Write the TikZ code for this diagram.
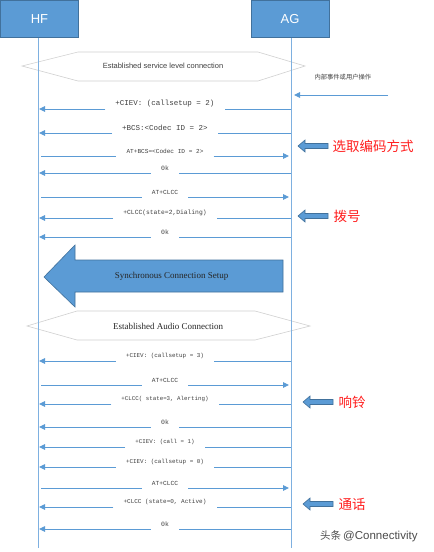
\documentclass[tikz,border=0pt]{standalone}
\usepackage{fontspec}
\usetikzlibrary{arrows.meta}
\newfontfamily\msgf{Liberation Mono}
\newfontfamily\serf{Liberation Serif}
\newfontfamily\sansf{Liberation Sans}
\newfontfamily\cjk{Noto Sans CJK SC}
\definecolor{ablue}{HTML}{5B9BD5}
\definecolor{dblue}{HTML}{41719C}
\definecolor{lblue}{HTML}{7EB0E0}
\definecolor{txtg}{HTML}{404040}
\definecolor{hexg}{HTML}{D0D0D0}
\definecolor{redt}{HTML}{FF1E1E}
\tikzset{
  msg/.style={ablue, line width=0.9pt},
  tipa/.style={-{Triangle[length=6pt,width=5.5pt]}},
  lbl/.style={text=txtg, inner xsep=10pt, inner ysep=0pt, yshift=5pt},
  life/.style={lblue, line width=0.9pt},
  hdr/.style={draw=dblue, fill=ablue, line width=0.6pt, minimum width=78pt, minimum height=37pt, text=white, font=\sansf\fontsize{13}{15}\selectfont},
  hexs/.style={draw=hexg, fill=white, line width=0.6pt},
  blk/.style={draw=dblue, fill=ablue, line width=0.6pt},
  redl/.style={text=redt, font=\cjk\fontsize{13.5}{15}\selectfont, anchor=west},
}
\newcommand\msgleft[4]{%
  \coordinate (#1s) at (291,#2);
  \coordinate (#1e) at (39,#2);
  \path (#1s) -- node[lbl, font={\msgf\fontsize{#3}{#3}\selectfont}] (#1t) {#4} (#1e);
  \draw[msg] (#1s) -- (#1s -| #1t.east);
  \draw[msg,tipa] (#1s -| #1t.west) -- (#1e);
}
\newcommand\msgright[4]{%
  \coordinate (#1s) at (41,#2);
  \coordinate (#1e) at (289,#2);
  \path (#1s) -- node[lbl, font={\msgf\fontsize{#3}{#3}\selectfont}] (#1t) {#4} (#1e);
  \draw[msg] (#1s) -- (#1s -| #1t.west);
  \draw[msg,tipa] (#1s -| #1t.east) -- (#1e);
}
\newcommand\sideblk[2]{% #1 tip x, #2 y
  \draw[blk] (#1,#2) -- (#1+7,#2-6) -- (#1+7,#2-2.5) -- (#1+30,#2-2.5) -- (#1+30,#2+2.5) -- (#1+7,#2+2.5) -- (#1+7,#2+6) -- cycle;
}
\begin{document}
\begin{tikzpicture}[x=1pt,y=-1pt]
\useasboundingbox (0,0) rectangle (434,552);
\fill[white] (0,0) rectangle (434,552);

% headers
\node[hdr] (hf) at (39.5,19) {HF};
\node[hdr] (ag) at (290,19) {AG};

% hexagon 1
\draw[hexs] (22,66) -- (78,52) -- (258,52) -- (305,66) -- (258,81) -- (78,81) -- cycle;
\node[font=\sansf\fontsize{7.5}{9}\selectfont, text=txtg] (slc) at (163,66) {Established service level connection};

% hexagon 2
\draw[hexs] (27,326) -- (77,311) -- (255,311) -- (310,326) -- (255,340) -- (77,340) -- cycle;
\node[font=\serf\fontsize{9}{11}\selectfont, text=black!85] (eac) at (168,326) {Established Audio Connection};

% lifelines
\coordinate (hfend) at (38,548);
\coordinate (agend) at (291,548);
\draw[life] (hf.south -| hfend) -- (hfend);
\draw[life] (ag.south -| agend) -- (agend);

% internal event
\node[font=\cjk\fontsize{6.3}{7}\selectfont, text=txtg, anchor=west] (ev) at (311,77) {内部事件或用户操作};
\coordinate (evs) at (388,95);
\coordinate (eve) at (294,95);
\draw[msg,tipa] (evs) -- (eve);

% messages
\msgleft{m1}{109}{7.5}{+CIEV: (callsetup = 2)}
\msgleft{m2}{133}{7.5}{+BCS:<Codec ID = 2>}
\msgright{m3}{156}{6.1}{AT+BCS=<Codec ID = 2>}
\msgleft{m4}{173}{6.5}{0k}
\msgright{m5}{197}{6.2}{AT+CLCC}
\msgleft{m6}{218}{6.3}{+CLCC(state=2,Dialing)}
\msgleft{m7}{237}{6.5}{0k}

% synchronous connection setup
\draw[blk] (44,277) -- (75,245) -- (75,260) -- (283,260) -- (283,292) -- (75,292) -- (75,307) -- cycle;
\node[font=\serf\fontsize{9}{11}\selectfont, text=black!85] (scs) at (171.5,276) {Synchronous Connection Setup};

\msgleft{m8}{361}{5.9}{+CIEV: (callsetup = 3)}
\msgright{m9}{385}{6.2}{AT+CLCC}
\msgleft{m10}{404}{5.8}{+CLCC( state=3, Alerting)}
\msgleft{m11}{427}{6.5}{0k}
\msgleft{m12}{447}{5.8}{+CIEV: (call = 1)}
\msgleft{m13}{467}{5.9}{+CIEV: (callsetup = 0)}
\msgright{m14}{488}{6.2}{AT+CLCC}
\msgleft{m15}{507}{6}{+CLCC (state=0, Active)}
\msgleft{m16}{529}{6.5}{0k}

% side annotations
\sideblk{298}{146}
\node[redl] (r1) at (329,146) {选取编码方式};
\sideblk{298}{216}
\node[redl] (r2) at (330,216) {拨号};
\sideblk{303}{402}
\node[redl] (r3) at (335,402) {响铃};
\sideblk{303}{504}
\node[redl] (r4) at (335,504) {通话};

% watermark
\node[anchor=west, text=black!70, inner sep=0pt] (wm) at (320,536) {{\cjk\fontsize{10.5}{12}\selectfont 头条}\hspace{2pt}{\sansf\fontsize{11.5}{13}\selectfont @Connectivity}};
\end{tikzpicture}
\end{document}
